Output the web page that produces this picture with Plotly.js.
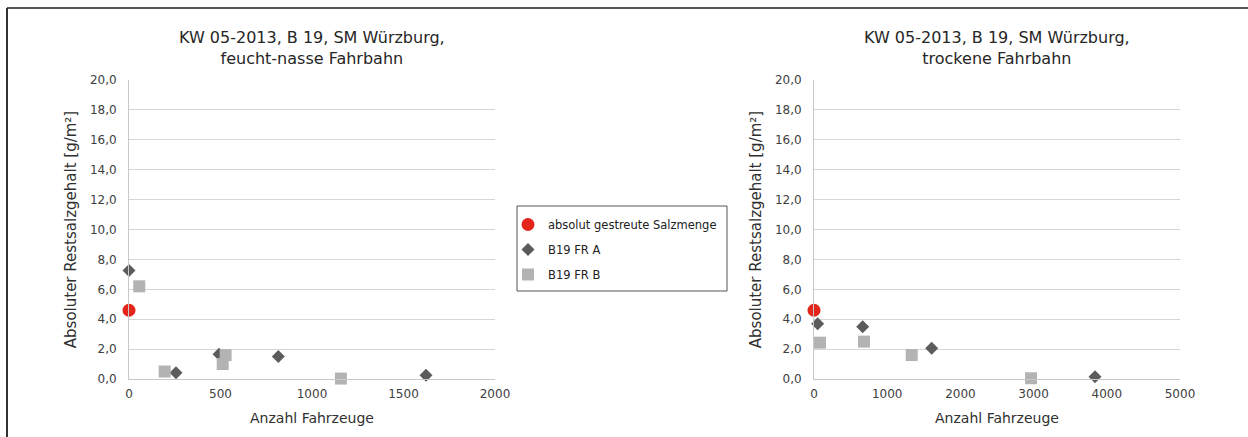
<!DOCTYPE html>
<html>
<head>
<meta charset="utf-8">
<script src="https://cdn.plot.ly/plotly-3.0.1.min.js"></script>
<style>
  html, body { margin: 0; padding: 0; background: #ffffff; }
  #chart { width: 1248px; height: 437px; }
</style>
</head>
<body>
<div id="chart"></div>
<script>
// ---- Data ----
const seriesNames = ["absolut gestreute Salzmenge", "B19 FR A", "B19 FR B"];

// Left panel: feucht-nasse Fahrbahn
const wetSaltX = [0];
const wetSaltY = [4.6];
const wetFrAX = [0, 492, 257, 816, 1623];
const wetFrAY = [7.25, 1.65, 0.42, 1.5, 0.25];
const wetFrBX = [56, 195, 512, 528, 1158];
const wetFrBY = [6.2, 0.5, 1.0, 1.6, 0.03];

// Right panel: trockene Fahrbahn
const dryStreuX = [0];
const dryStreuY = [4.6];
const dryFrAX = [50, 665, 1608, 3839];
const dryFrAY = [3.7, 3.5, 2.05, 0.15];
const dryFrBX = [82, 683, 1335, 2965];
const dryFrBY = [2.43, 2.5, 1.6, 0.05];

const titleLeft = "KW 05-2013, B 19, SM Würzburg,<br>feucht-nasse Fahrbahn";
const titleRight = "KW 05-2013, B 19, SM Würzburg,<br>trockene Fahrbahn";
const xTitle = "Anzahl Fahrzeuge";
const yTitle = "Absoluter Restsalzgehalt [g/m²]";

// ---- Styles ----
const FONT = "DejaVu Sans, Liberation Sans, Arial, sans-serif";
const redStyle = {color: "#e3261c", size: 13, symbol: "circle"};
const diaStyle = {color: "#5c5c5c", size: 10, symbol: "diamond"};
const sqStyle = {color: "#b3b3b3", size: 12, symbol: "square"};
const groups = ["g0", "g1", "g2"];

function tr(x, y, name, mk, xa, ya, show, grp) {
  return {x: x, y: y, name: name, type: "scatter", mode: "markers",
    marker: mk, xaxis: xa, yaxis: ya, showlegend: show, cliponaxis: false,
    legendgroup: grp, hoverinfo: "x+y"};
}

const data = [
  tr(wetSaltX, wetSaltY, seriesNames[0], redStyle, "x", "y", true, groups[0]),
  tr(wetFrAX, wetFrAY, seriesNames[1], diaStyle, "x", "y", true, groups[1]),
  tr(wetFrBX, wetFrBY, seriesNames[2], sqStyle, "x", "y", true, groups[2]),
  tr(dryStreuX, dryStreuY, seriesNames[0], redStyle, "x2", "y2", false, groups[0]),
  tr(dryFrAX, dryFrAY, seriesNames[1], diaStyle, "x2", "y2", false, groups[1]),
  tr(dryFrBX, dryFrBY, seriesNames[2], sqStyle, "x2", "y2", false, groups[2])
];

const W = 1248, H = 437;
const yDom = [1 - 379 / H, 1 - 80 / H];

function xAxis(range, dtick, domain, anchor) {
  return {
    domain: domain, anchor: anchor, range: range, dtick: dtick, tick0: 0,
    showgrid: false, zeroline: false, showline: true, linecolor: "#c8c8c8", linewidth: 1,
    ticks: "", tickfont: {family: FONT, size: 12, color: "#404040"},
    ticklabelstandoff: 4,
    title: {text: xTitle, font: {family: FONT, size: 14, color: "#303030"}, standoff: 12},
    fixedrange: true
  };
}
function yAxis(domain, anchor) {
  return {
    domain: yDom, anchor: anchor, range: [0, 20], dtick: 2, tick0: 0,
    tickformat: ".1f",
    showgrid: true, gridcolor: "#d6d6d6", gridwidth: 1,
    zeroline: false, showline: true, linecolor: "#c8c8c8", linewidth: 1,
    ticks: "", tickfont: {family: FONT, size: 12, color: "#404040"},
    ticklabelstandoff: 9,
    title: {text: yTitle, font: {family: FONT, size: 15, color: "#303030"}, standoff: 9},
    fixedrange: true
  };
}

const layout = {
  width: W, height: H,
  margin: {l: 0, r: 0, t: 0, b: 0},
  paper_bgcolor: "#ffffff", plot_bgcolor: "#ffffff",
  separators: ",.",
  font: {family: FONT, color: "#333333"},
  xaxis: xAxis([0, 2000], 500, [129 / W, 495 / W], "y"),
  yaxis: yAxis(yDom, "x"),
  xaxis2: xAxis([0, 5000], 1000, [814 / W, 1180 / W], "y2"),
  yaxis2: yAxis(yDom, "x2"),
  showlegend: true,
  legend: {
    x: 508 / W, y: 1 - 210 / H, xanchor: "left", yanchor: "top",
    bgcolor: "rgba(0,0,0,0)", borderwidth: 0, tracegroupgap: 6,
    font: {family: FONT, size: 11.5, color: "#222222"},
    itemclick: false, itemdoubleclick: false
  },
  annotations: [
    {text: titleLeft, xref: "paper", yref: "paper", x: 312 / W, y: 1 - 26 / H,
     xanchor: "center", yanchor: "top", showarrow: false,
     font: {family: FONT, size: 16, color: "#262626"}},
    {text: titleRight, xref: "paper", yref: "paper", x: 997 / W, y: 1 - 26 / H,
     xanchor: "center", yanchor: "top", showarrow: false,
     font: {family: FONT, size: 16, color: "#262626"}}
  ],
  shapes: [
    {type: "rect", xref: "paper", yref: "paper", x0: 517 / W, x1: 727 / W,
     y0: 1 - 291 / H, y1: 1 - 206 / H, line: {color: "#555555", width: 1}},
    {type: "line", xref: "paper", yref: "paper", x0: 7 / W, x1: 1, y0: 1 - 8 / H, y1: 1 - 8 / H,
     line: {color: "#555555", width: 2}},
    {type: "line", xref: "paper", yref: "paper", x0: 7 / W, x1: 7 / W, y0: 0, y1: 1 - 8 / H,
     line: {color: "#333333", width: 2}}
  ]
};

Plotly.newPlot("chart", data, layout, {displayModeBar: false, staticPlot: false});
</script>
</body>
</html>
